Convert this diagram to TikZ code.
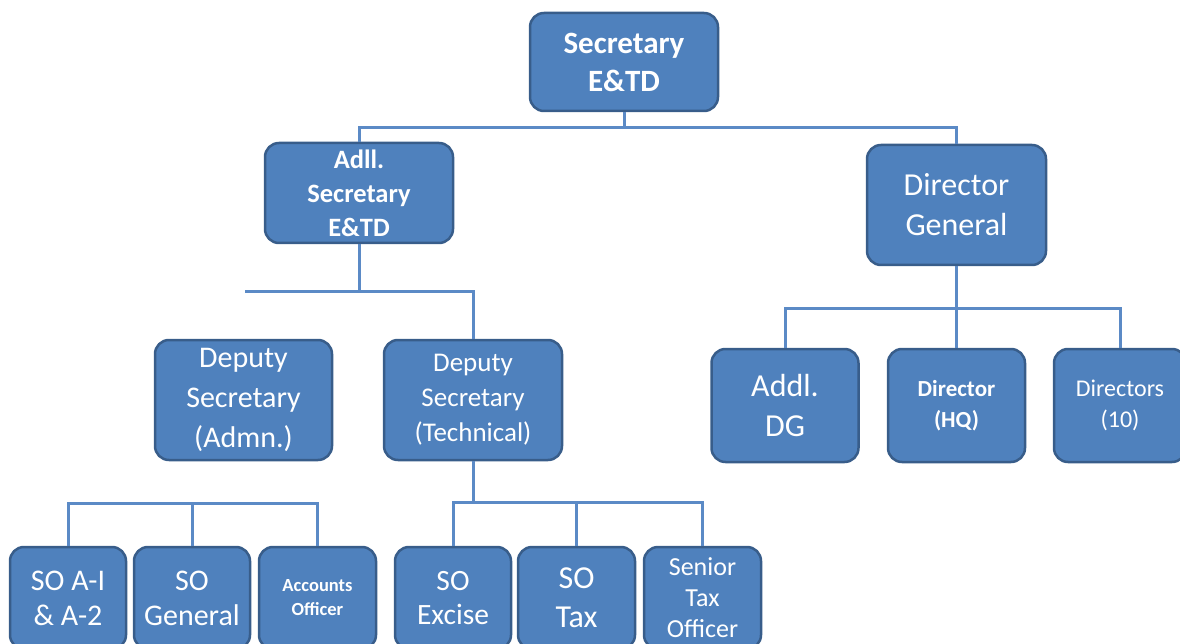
\documentclass[tikz,border=0pt]{standalone}
\usepackage{fontspec}
\setmainfont{Carlito}
\definecolor{boxfill}{HTML}{4F81BD}
\definecolor{boxline}{HTML}{385D8A}
\definecolor{linkc}{HTML}{5B8AC6}
\newcommand{\fs}[2]{\fontsize{#1}{#2}\selectfont}
\tikzset{
  box/.style={rounded corners=14pt, draw=boxline, line width=2.5pt, fill=boxfill,
              text=white, align=center, inner sep=0pt},
  link/.style={draw=linkc, line width=3pt}
}
\begin{document}
\begin{tikzpicture}[x=1pt,y=-1pt]
\useasboundingbox (0,0) rectangle (1180,644);
\clip (0,0) rectangle (1180,644);

% top level
\node[box, minimum width=188pt, minimum height=98pt, font=\fs{31}{38}\bfseries] (sec) at (624,62)
  {Secretary\\E\&TD};

% second level
\node[box, minimum width=188pt, minimum height=100pt, font=\fs{26.5}{34}\bfseries] (adll) at (359,193)
  {Adll.\\Secretary\\E\&TD};
\node[box, minimum width=179pt, minimum height=120pt, font=\fs{32}{40}] (dg) at (956.5,205)
  {Director\\General};

% deputy secretaries
\node[box, minimum width=177pt, minimum height=120pt, font=\fs{30}{40}] (depadm) at (243.5,400)
  {Deputy\\Secretary\\(Admn.)};
\node[box, minimum width=178pt, minimum height=120pt, font=\fs{27}{35}] (deptech) at (473,400)
  {Deputy\\Secretary\\(Technical)};

% under the director general
\node[box, minimum width=147pt, minimum height=113pt, font=\fs{32}{40}] (addldg) at (785,405.5)
  {Addl.\\DG};
\node[box, minimum width=137pt, minimum height=113pt, font=\fs{23}{31}\bfseries] (dirhq) at (956.5,405.5)
  {Director\\(HQ)};
\node[box, minimum width=132pt, minimum height=113pt, font=\fs{24}{31}] (dirs) at (1120,405.5)
  {Directors\\(10)};

% section officers
\node[box, minimum width=116pt, minimum height=102pt, font=\fs{30}{35}] (soa) at (68,598)
  {SO A-I\\\& A-2};
\node[box, minimum width=116pt, minimum height=102pt, font=\fs{30}{35}] (sog) at (192,598)
  {SO\\General};
\node[box, minimum width=117pt, minimum height=102pt, font=\fs{18.5}{24}\bfseries] (acc) at (317.5,598)
  {Accounts\\Officer};
\node[box, minimum width=116pt, minimum height=102pt, font=\fs{29.5}{34}] (soe) at (453,598)
  {SO\\Excise};
\node[box, minimum width=117pt, minimum height=102pt, font=\fs{32}{39}] (sot) at (576.5,598)
  {SO\\Tax};
\node[box, minimum width=117pt, minimum height=102pt, font=\fs{26}{31}] (sto) at (702.5,598)
  {Senior\\Tax\\Officer};

% junction points
\coordinate (t1) at (624,128);
\coordinate (t2) at (359,291);
\coordinate (stub) at (245,291);
\coordinate (t3) at (956.5,308);
\coordinate (t4) at (192,503);
\coordinate (t5) at (473,502);

% connectors
\draw[link] (sec.south) -- (t1);
\draw[link] (adll.north) |- (t1) -| (dg.north);

\draw[link] (adll.south) -- (t2);
\draw[link] (stub) -| (deptech.north);

\draw[link] (dg.south) -- (t3);
\draw[link] (addldg.north) |- (t3) -| (dirs.north);
\draw[link] (t3) -- (dirhq.north);

\draw[link] (soa.north) |- (t4) -| (acc.north);
\draw[link] (sog.north) -- (t4);

\draw[link] (deptech.south) -- (t5);
\draw[link] (soe.north) |- (t5) -| (sto.north);
\draw[link] (sot.north) -- (sot.north |- t5);
\end{tikzpicture}
\end{document}
